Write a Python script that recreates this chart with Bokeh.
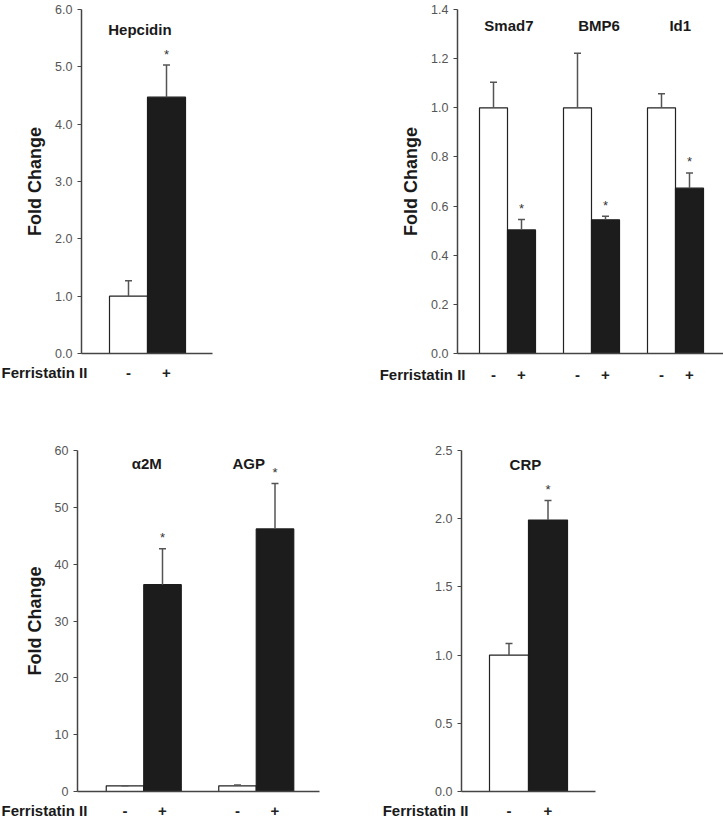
from bokeh.plotting import figure
from bokeh.layouts import column, row
from bokeh.models import Range1d, FixedTicker, NumeralTickFormatter, Label
from bokeh.core.properties import value
from bokeh.embed import file_html
from bokeh.resources import INLINE

# ---------------- data ----------------
treat_labels = ["-", "+"]
treat_title = "Ferristatin II"
y_title = "Fold Change"

hep_gene = ["Hepcidin"]
hep_ctrl = [1.0]
hep_ctrl_err = [0.27]
hep_trt = [4.47]
hep_trt_err = [0.56]
hep_ticks = [0.0, 1.0, 2.0, 3.0, 4.0, 5.0, 6.0]

bmp_genes = ["Smad7", "BMP6", "Id1"]
bmp_ctrl = [1.0, 1.0, 1.0]
bmp_ctrl_err = [0.104, 0.222, 0.057]
bmp_trt = [0.503, 0.544, 0.673]
bmp_trt_err = [0.042, 0.015, 0.062]
bmp_ticks = [0.0, 0.2, 0.4, 0.6, 0.8, 1.0, 1.2, 1.4]

app_genes = ["\u03b12M", "AGP"]
app_ctrl = [1.0, 1.0]
app_ctrl_err = [0.03, 0.15]
app_trt = [36.4, 46.2]
app_trt_err = [6.3, 8.0]
app_ticks = [0, 10, 20, 30, 40, 50, 60]

crp_gene = ["CRP"]
crp_ctrl = [1.0]
crp_ctrl_err = [0.085]
crp_trt = [1.99]
crp_trt_err = [0.143]
crp_ticks = [0.0, 0.5, 1.0, 1.5, 2.0, 2.5]

FONT = "Liberation Sans"
AXIS_COL = "#444444"
ERR_COL = "#555555"
TXT_COL = "#1a1a1a"


def panel(width, height, left, right, top, bottom, unit_px, first_px,
          ymax, ticks, fmt, genes, ctrl, ctrl_err, trt, trt_err,
          title_x, title_dy, ylabel):
    frame_w = width - left - right
    xs = 1 - first_px / unit_px
    xe = xs + frame_w / unit_px
    p = figure(width=width, height=height, x_range=Range1d(xs, xe),
               y_range=Range1d(0, ymax), output_backend="svg",
               toolbar_location=None, min_border_left=left,
               min_border_right=right, min_border_top=top,
               min_border_bottom=bottom)
    p.xgrid.visible = False
    p.ygrid.visible = False
    p.outline_line_color = None
    p.background_fill_color = "white"

    n = len(genes)
    cx = [3 * g + 1 for g in range(n)]
    tx = [3 * g + 2 for g in range(n)]

    p.vbar(x=cx, top=ctrl, bottom=0, width=1.0, fill_color="white",
           line_color="#222222", line_width=1.2)
    p.vbar(x=tx, top=trt, bottom=0, width=1.0, fill_color="#1c1c1c",
           line_color="#1c1c1c", line_width=1.2)

    c_hi = [m + e for m, e in zip(ctrl, ctrl_err)]
    t_hi = [m + e for m, e in zip(trt, trt_err)]
    p.segment(x0=cx, y0=ctrl, x1=cx, y1=c_hi, line_color=ERR_COL, line_width=1.5)
    p.segment(x0=tx, y0=trt, x1=tx, y1=t_hi, line_color=ERR_COL, line_width=1.5)
    p.scatter(x=cx + tx, y=c_hi + t_hi, marker="dash", size=7,
              line_color=ERR_COL, line_width=1.5)
    p.text(x=tx, y=t_hi, text=["*"] * n, y_offset=-11, text_align="center",
           text_baseline="middle", text_font=value(FONT),
           text_font_size="13px", text_color="#333333")

    for g, name in enumerate(genes):
        p.add_layout(Label(x=title_x[g], y=ymax, y_offset=-title_dy, text=name,
                           text_align="center", text_baseline="middle",
                           text_font=FONT, text_font_size="15px",
                           text_font_style="bold", text_color=TXT_COL))

    # x axis: just the baseline (the -/+ row is drawn in a strip below)
    ax = p.xaxis[0]
    ax.ticker = FixedTicker(ticks=[])
    ax.major_tick_line_color = None
    ax.minor_tick_line_color = None
    ax.major_tick_out = 0
    ax.major_tick_in = 0
    ax.major_label_standoff = 0
    ax.axis_line_color = AXIS_COL
    ax.axis_line_width = 1.5

    ay = p.yaxis[0]
    ay.ticker = FixedTicker(ticks=ticks)
    ay.formatter = NumeralTickFormatter(format=fmt)
    ay.minor_tick_line_color = None
    ay.major_tick_out = 4
    ay.major_tick_in = 0
    ay.major_tick_line_color = AXIS_COL
    ay.major_tick_line_width = 1.2
    ay.axis_line_color = AXIS_COL
    ay.axis_line_width = 1.5
    ay.major_label_standoff = 5
    ay.major_label_text_font = FONT
    ay.major_label_text_font_size = "12.5px"
    ay.major_label_text_color = "#555555"
    if ylabel:
        ay.axis_label = ylabel
        ay.axis_label_text_font = FONT
        ay.axis_label_text_font_size = "18px"
        ay.axis_label_text_font_style = "bold"
        ay.axis_label_text_color = TXT_COL
        ay.axis_label_standoff = 7
    return p


def strip(width, height, left, unit_px, first_px, n, lab_y, lab_mode, lab_dx):
    # row of treatment signs under a panel, on the same horizontal scale
    xa = 1 - first_px / unit_px
    xs = xa - left / unit_px
    xe = xs + width / unit_px
    s = figure(width=width, height=height, x_range=Range1d(xs, xe),
               y_range=Range1d(height, 0), output_backend="svg",
               toolbar_location=None, x_axis_location=None,
               y_axis_location=None, min_border_left=0, min_border_right=0,
               min_border_top=0, min_border_bottom=0)
    s.xgrid.visible = False
    s.ygrid.visible = False
    s.outline_line_color = None
    s.background_fill_color = "white"
    cx = [3 * g + 1 for g in range(n)]
    tx = [3 * g + 2 for g in range(n)]
    s.text(x=cx + tx, y=[lab_y] * (2 * n),
           text=[treat_labels[0]] * n + [treat_labels[1]] * n,
           text_align="center", text_baseline="middle",
           text_font=value(FONT), text_font_size="15px",
           text_font_style="bold", text_color="#222222")
    if lab_mode == "left":
        s.text(x=[xs], y=[lab_y], x_offset=lab_dx, text=[treat_title],
               text_align="left", text_baseline="middle",
               text_font=value(FONT), text_font_size="15px",
               text_font_style="bold", text_color=TXT_COL)
    else:
        s.text(x=[xa], y=[lab_y], x_offset=lab_dx, text=[treat_title],
               text_align="right", text_baseline="middle",
               text_font=value(FONT), text_font_size="15px",
               text_font_style="bold", text_color=TXT_COL)
    return s


p1 = panel(220, 365, 81, 8, 5, 8, 38, 47, 6.0, hep_ticks, "0.0",
           hep_gene, hep_ctrl, hep_ctrl_err, hep_trt, hep_trt_err,
           [1.30], 20, y_title)
p2 = panel(503, 365, 237, 0, 9, 12, 28, 36, 1.4, bmp_ticks, "0.0",
           bmp_genes, bmp_ctrl, bmp_ctrl_err, bmp_trt, bmp_trt_err,
           [1.55, 4.77, 7.67], 16, y_title)
p3 = panel(370, 409, 77, 51, 60, 8, 37.5, 47.5, 60, app_ticks, "0",
           app_genes, app_ctrl, app_ctrl_err, app_trt, app_trt_err,
           [1.58, 4.30], 13, y_title)
p4 = panel(353, 409, 91, 128, 59, 7, 39, 47.5, 2.5, crp_ticks, "0.0",
           crp_gene, crp_ctrl, crp_ctrl_err, crp_trt, crp_trt_err,
           [1.42], 14, None)

s1 = strip(220, 25, 81, 38, 47, len(hep_gene), 7, "left", 1)
s2 = strip(503, 25, 237, 28, 36, len(bmp_genes), 9, "right", 8)
s3 = strip(370, 21, 77, 37.5, 47.5, len(app_genes), 11, "left", 1)
s4 = strip(353, 21, 91, 39, 47.5, len(crp_gene), 11, "right", 7)

layout = column(row(p1, p2, spacing=0), row(s1, s2, spacing=0),
                row(p3, p4, spacing=0), row(s3, s4, spacing=0), spacing=0)

open("out.html", "w").write(file_html(layout, INLINE))
